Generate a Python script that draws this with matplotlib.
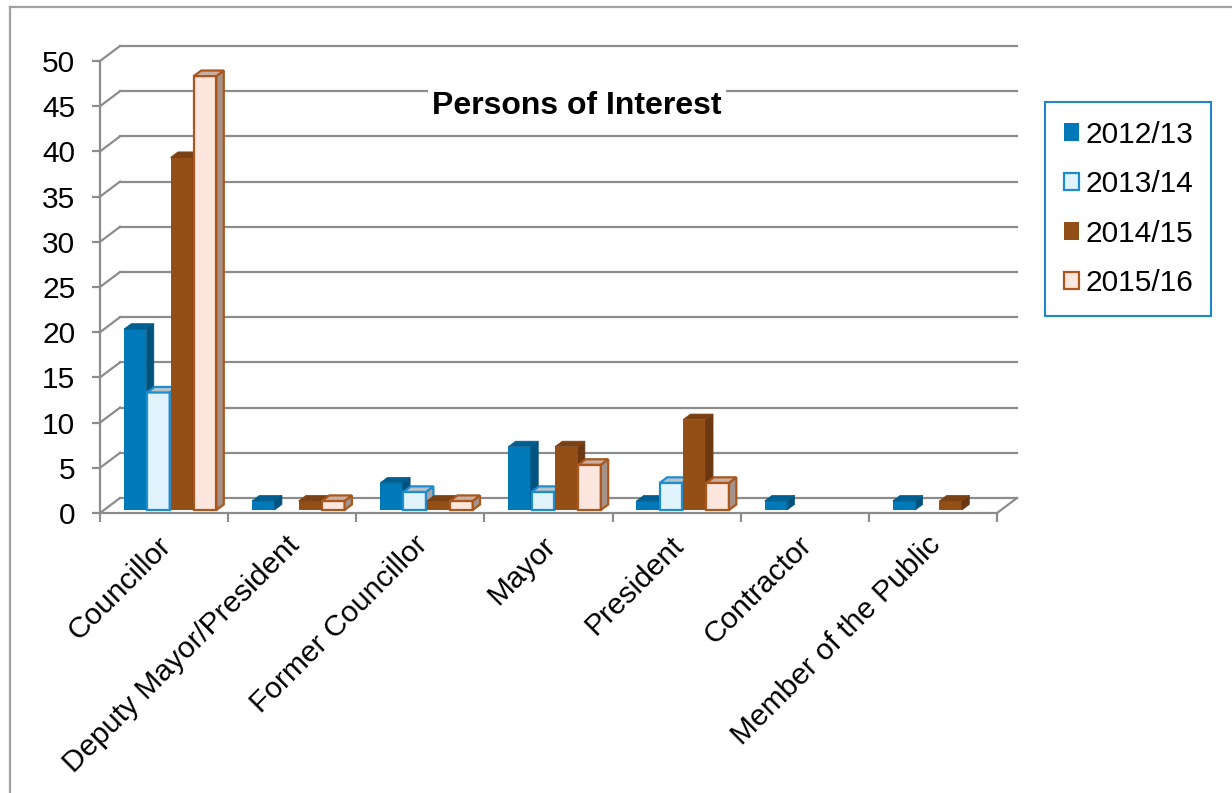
import matplotlib
matplotlib.use("Agg")
import matplotlib.pyplot as plt
from matplotlib.patches import Polygon, Patch
from matplotlib.lines import Line2D
from matplotlib.transforms import ScaledTranslation
import numpy as np

plt.rcParams['font.family'] = ['Liberation Sans', 'DejaVu Sans']

#%% data
categories = ["Councillor", "Deputy Mayor/President", "Former Councillor",
              "Mayor", "President", "Contractor", "Member of the Public"]
years = ["2012/13", "2013/14", "2014/15", "2015/16"]
v_1213 = [20, 1, 3, 7, 1, 1, 1]
v_1314 = [13, 0, 2, 2, 3, 0, 0]
v_1415 = [39, 1, 1, 7, 10, 0, 1]
v_1516 = [48, 1, 1, 5, 3, 0, 0]
series = [v_1213, v_1314, v_1415, v_1516]

#%% style: (front, side, top, edge, edge width)
styles = [
    ("#0079b9", "#00537e", "#005f90", "#0079b9", 0.0),
    ("#e1f4fd", "#a6a6a6", "#b8c3c8", "#1f8ccf", 1.6),
    ("#944f16", "#6a3811", "#7b4114", "#944f16", 0.0),
    ("#fde6dd", "#a59389", "#c9afa3", "#aa571e", 1.6),
]
grid_c = "#8c8c8c"

fig = plt.figure(figsize=(12.32, 7.93), dpi=100)
ax = fig.add_axes([100/1232, 280/793, 897/1232, 452/793])
ax.set_xlim(0, 7)
ax.set_ylim(0, 50)

# depth of the 3d box, in data units
DX = 20/128.14
DY = 15/9.04

# back wall + left wall
for y in range(0, 55, 5):
    ax.plot([DX, 7 + DX], [y + DY, y + DY], color=grid_c, lw=1.6, clip_on=False, zorder=1)
    ax.plot([0, DX], [y, y + DY], color=grid_c, lw=1.6, clip_on=False, zorder=1)
ax.plot([7, 7 + DX], [0, DY], color=grid_c, lw=1.6, clip_on=False, zorder=1)

# bars
f = 0.2        # bar plane depth
bd = 0.37      # bar depth
w = 0.176
step = 0.182
base = f * DY
z = 3
for i in range(len(categories)):
    for j, vals in enumerate(series):
        h = vals[i]
        if h == 0:
            continue
        fc, sc, tc, ec, lw = styles[j]
        x0 = i + 0.155 + j * step + f * DX
        ddx, ddy = bd * DX, bd * DY
        top = base + h
        ax.bar(x0, h, width=w, bottom=base, align='edge', color=fc,
               edgecolor=ec, linewidth=lw, clip_on=False, zorder=z)
        side = Polygon([(x0 + w, base), (x0 + w + ddx, base + ddy),
                        (x0 + w + ddx, top + ddy), (x0 + w, top)],
                       closed=True, facecolor=sc, edgecolor=ec if lw else sc,
                       linewidth=lw if lw else 0.5, clip_on=False, zorder=z)
        tp = Polygon([(x0, top), (x0 + w, top), (x0 + w + ddx, top + ddy),
                      (x0 + ddx, top + ddy)],
                     closed=True, facecolor=tc, edgecolor=ec if lw else tc,
                     linewidth=lw if lw else 0.5, clip_on=False, zorder=z)
        ax.add_patch(side)
        ax.add_patch(tp)
        z += 1

# axes
for s in ["top", "right"]:
    ax.spines[s].set_visible(False)
for s in ["left", "bottom"]:
    ax.spines[s].set_color(grid_c)
    ax.spines[s].set_linewidth(1.6)
    ax.spines[s].set_zorder(2)
ax.set_yticks(range(0, 55, 5))
ax.tick_params(axis='y', length=5.8, width=1.6, color=grid_c, pad=12,
               labelsize=21.5, labelcolor='black')
ax.set_xticks(range(0, 8))
ax.set_xticklabels([])
ax.tick_params(axis='x', length=6.5, width=1.6, color=grid_c)

off = ax.transData + ScaledTranslation(-0.07, -0.18, fig.dpi_scale_trans)
for i, name in enumerate(categories):
    ax.text(i + 0.5, 0, name, transform=off, rotation=45, ha='right', va='top',
            rotation_mode='anchor', fontsize=21.5)

# title
fig.text(577/1232, 1 - 106/793, "Persons of Interest", ha='center', va='center',
         fontsize=23, fontweight='bold',
         bbox=dict(facecolor='white', edgecolor='none', pad=3))

# legend
handles = [Patch(facecolor=s[0], edgecolor=s[3], linewidth=s[4] if s[4] else 0) for s in styles]
leg = fig.legend(handles, years, loc='upper left',
                 bbox_to_anchor=(1045/1232, 1 - 102/793), fontsize=21.5,
                 handlelength=0.52, handleheight=0.52, handletextpad=0.2,
                 labelspacing=0.72, borderpad=0.62, borderaxespad=0,
                 fancybox=False, framealpha=1)
leg.get_frame().set_edgecolor("#1f88c9")
leg.get_frame().set_linewidth(1.5)

# outer border
fig.add_artist(Line2D([10/1232, 10/1232], [0, 1 - 7/793], color="#a0a0a0", lw=1.6))
fig.add_artist(Line2D([10/1232, 1], [1 - 7/793, 1 - 7/793], color="#a0a0a0", lw=1.6))

fig.savefig("out.png", dpi=100)
